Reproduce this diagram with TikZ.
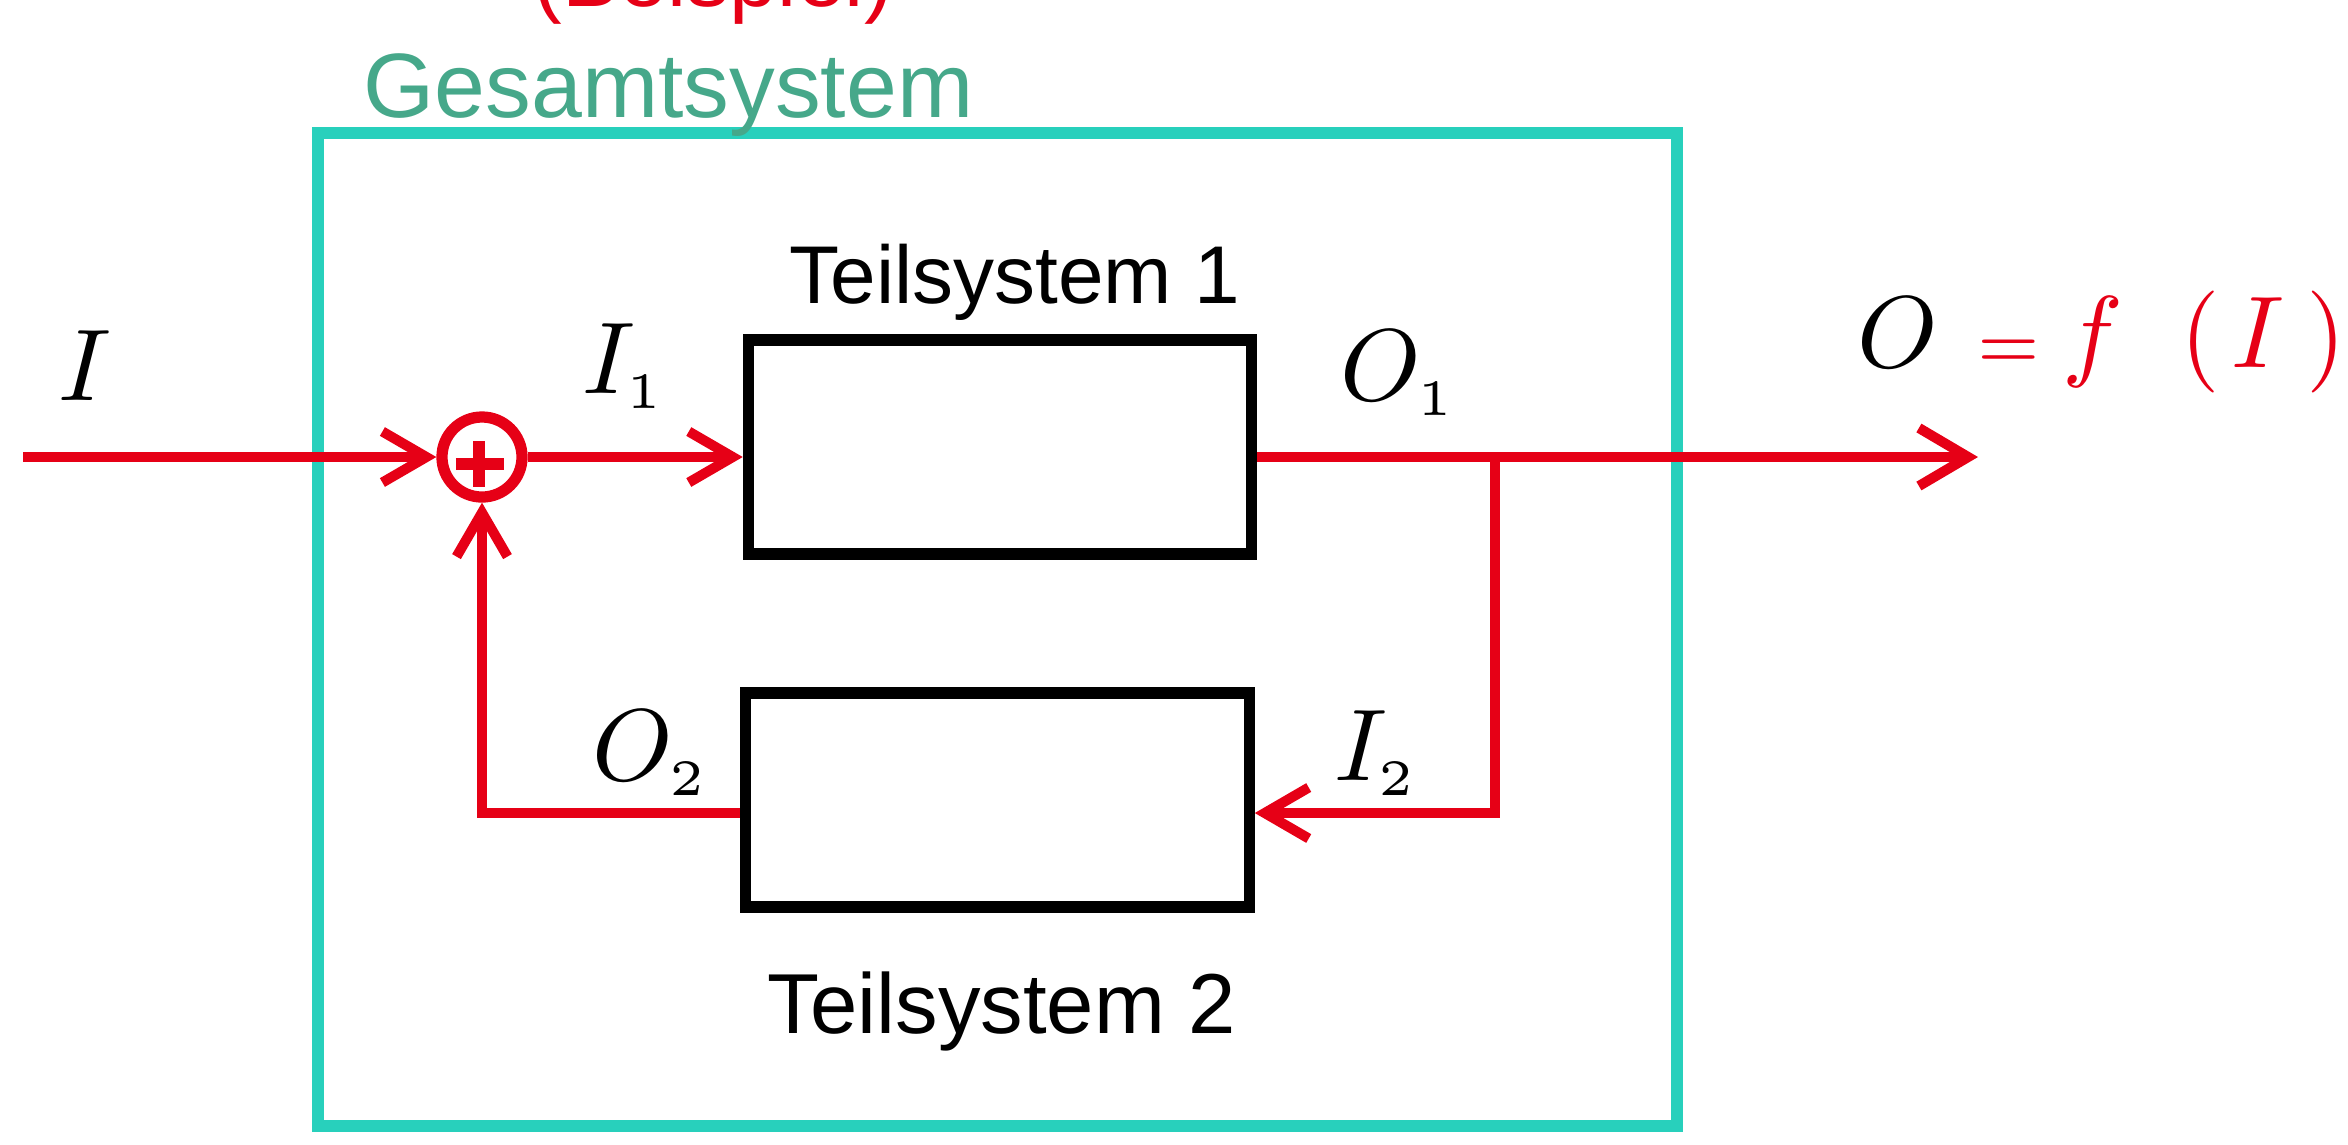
\documentclass[tikz,border=0pt]{standalone}
\usepackage{fontspec}
\setmainfont{Liberation Sans}
\usetikzlibrary{arrows.meta}
\definecolor{sigred}{RGB}{230,0,22}
\definecolor{gesline}{RGB}{40,208,188}
\definecolor{gestext}{RGB}{70,168,138}
\begin{document}
\begin{tikzpicture}[x=0.01cm,y=-0.01cm,
  sig/.style={draw=sigred,line width=2.85pt},
  tipsig/.style={-{Straight Barb[length=12.5pt,width=14.5pt]}},
  tipbig/.style={-{Straight Barb[length=14pt,width=16.5pt]}},
  block/.style={draw=black,line width=3.2pt,minimum width=5.03cm,minimum height=2.14cm,inner sep=0pt},
  gesbox/.style={draw=gesline,line width=3.4pt,minimum width=13.59cm,minimum height=9.93cm,inner sep=0pt},
  sumnode/.style={circle,draw=sigred,line width=3.2pt,minimum size=0.8cm,inner sep=0pt},
  plusline/.style={draw=sigred,line width=3.4pt},
  mathlab/.style={inner sep=0pt,scale=2.9},
  txtlab/.style={inner sep=0pt,anchor=base west}
]
\useasboundingbox (0,0) rectangle (2348,1144);

% partially visible red title at the top edge (cut off as in the reference)
\begin{scope}
  \clip (0,0) rectangle (2348,1144);
  \node[txtlab,text=sigred,font=\fontsize{24.5}{28}\selectfont] (title) at (533,6) {(Beispiel)};
\end{scope}

% overall system
\node[gesbox] (ges) at (997.5,629.5) {};
\node[txtlab,text=gestext,font=\fontsize{26}{30}\selectfont] (gestitle) at (363,117) {Gesamtsystem};

% subsystems
\node[block] (ts1) at (1000,447) {};
\node[block] (ts2) at (997.5,800) {};
\node[txtlab,font=\fontsize{23.3}{28}\selectfont] (ts1lab) at (789,303) {Teilsystem 1};
\node[txtlab,font=\fontsize{24.2}{28}\selectfont] (ts2lab) at (767,1033) {Teilsystem 2};

% summing point
\node[sumnode] (sum) at (482,457) {};
\draw[plusline] ([xshift=-0.26cm,yshift=-0.07cm]sum.center) -- ([xshift=0.22cm,yshift=-0.07cm]sum.center);
\draw[plusline] ([xshift=-0.03cm,yshift=0.16cm]sum.center) -- ([xshift=-0.03cm,yshift=-0.30cm]sum.center);

% coordinates
\coordinate (in) at (23,457);
\coordinate (out) at (1978,457);
\coordinate (br) at (1495,457);
\coordinate (fbr) at (1495,813);

% signal lines
\draw[sig,tipsig] (in) -- (sum.west);
\draw[sig,tipsig] (sum.east) -- (sum.east -| ts1.west);
\draw[sig,tipbig] (sum.east -| ts1.east) -- (out);
\draw[sig,tipsig] (br) -- (fbr) -- (fbr -| ts2.east);
\draw[sig,tipsig] (fbr -| ts2.west) -- (sum.south |- fbr) -- (sum.south);

% labels
\node[mathlab,anchor=base] (lI) at (85,400) {$I$};
\node[mathlab,anchor=base west] (lI1) at (580,393) {$I_{\scriptscriptstyle 1}$};
\node[mathlab,anchor=base west] (lO1) at (1338,400) {$O_{\scriptscriptstyle 1}$};
\node[mathlab,anchor=base west] (lO2) at (590,780) {$O_{\scriptscriptstyle 2}$};
\node[mathlab,anchor=base west] (lI2) at (1332,780) {$I_{\scriptscriptstyle 2}$};
\node[mathlab,anchor=base west] (formula) at (1855,367)
  {$O\mkern7mu\color{sigred}{\scriptstyle =}\mkern4mu f\mkern10mu(\mkern2mu I\mkern4mu)$};
\end{tikzpicture}
\end{document}
